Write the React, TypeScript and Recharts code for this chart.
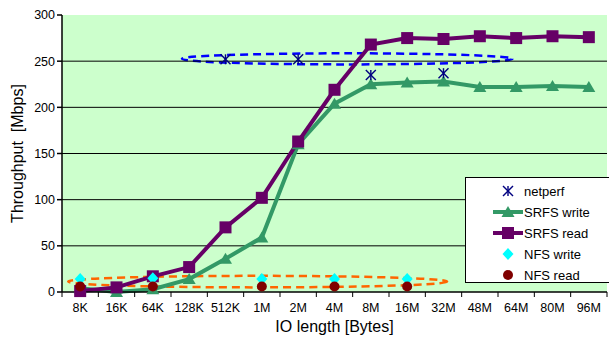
import { ComposedChart, Line, XAxis, YAxis, CartesianGrid, ReferenceLine, ReferenceArea } from 'recharts'

// IO length categories
const categories = ['8K', '16K', '64K', '128K', '512K', '1M', '2M', '4M', '8M', '16M', '32M', '48M', '64M', '80M', '96M']
// Throughput in Mbps
const srfsWrite = [4, 0, 3, 14, 36, 59, 160, 204, 225, 227, 228, 222, 222, 223, 222]
const srfsRead = [1, 5, 17, 27, 70, 102, 163, 219, 268, 275, 274, 277, 275, 277, 276]
const netperf = [null, null, null, null, 252, null, 252, null, 235, null, 237, null, null, null, null]
const nfsWrite = [14, null, 15, null, null, 14, null, 14, null, 14, null, null, null, null, null]
const nfsRead = [6, null, 6, null, null, 6, null, 6, null, 6, null, null, null, null, null]
const yTicks = [0, 50, 100, 150, 200, 250, 300]
const gridValues = [50, 100, 150, 200, 250]

const data = categories.map((c, i) => ({
  idx: i,
  name: c,
  srfsWrite: srfsWrite[i],
  srfsRead: srfsRead[i],
  netperf: netperf[i],
  nfsWrite: nfsWrite[i],
  nfsRead: nfsRead[i],
}))

const FONT = '"Liberation Sans", Arial, sans-serif'
const PURPLE = '#660066'
const GREEN = '#339966'
const NAVY = '#000080'
const CYAN = '#00ffff'
const DARKRED = '#800000'

const W = 609
const H = 338
const LEFT = 62
const RIGHT = 2
const STEP = (W - LEFT - RIGHT) / categories.length

function Square({ cx, cy }: any) {
  return <rect x={cx - 6} y={cy - 6} width={12} height={12} fill={PURPLE} />
}
function Triangle({ cx, cy }: any) {
  return <polygon points={`${cx},${cy - 6} ${cx + 6.5},${cy + 5} ${cx - 6.5},${cy + 5}`} fill={GREEN} />
}
function Star({ cx, cy }: any) {
  return (
    <g stroke={NAVY} strokeWidth={1.4}>
      <line x1={cx - 5} y1={cy - 5} x2={cx + 5} y2={cy + 5} />
      <line x1={cx - 5} y1={cy + 5} x2={cx + 5} y2={cy - 5} />
      <line x1={cx} y1={cy - 5} x2={cx} y2={cy + 5} />
    </g>
  )
}
function Diamond({ cx, cy }: any) {
  return <polygon points={`${cx},${cy - 6} ${cx + 5.5},${cy} ${cx},${cy + 6} ${cx - 5.5},${cy}`} fill={CYAN} />
}
function Dot({ cx, cy }: any) {
  return <circle cx={cx} cy={cy} r={5} fill={DARKRED} />
}

const dotOf = (Shape: any) => (props: any) => {
  const { cx, cy, index, value } = props
  if (value == null || cx == null || cy == null) return <g key={index} />
  return <Shape key={index} cx={cx} cy={cy} />
}

function XTick({ x, y, payload }: any) {
  const i = payload.value
  return (
    <g>
      <line x1={x - STEP / 2} y1={y - 8} x2={x - STEP / 2} y2={y - 3} stroke="#000" />
      {i === categories.length - 1 && <line x1={x + STEP / 2} y1={y - 8} x2={x + STEP / 2} y2={y - 3} stroke="#000" />}
      <text x={x} y={y + 12} textAnchor="middle" fontSize={12.5} fontFamily={FONT} fill="#000">
        {categories[i]}
      </text>
    </g>
  )
}

const ellipse = (color: string) => (props: any) => {
  const { x, y, width, height } = props
  return (
    <ellipse
      cx={x + width / 2}
      cy={y + height / 2}
      rx={width / 2}
      ry={height / 2}
      fill="none"
      stroke={color}
      strokeWidth={2.5}
      strokeDasharray="8 5"
    />
  )
}

const legendItems = [
  { label: 'netperf', Shape: Star, line: null },
  { label: 'SRFS write', Shape: Triangle, line: GREEN },
  { label: 'SRFS read', Shape: Square, line: PURPLE },
  { label: 'NFS write', Shape: Diamond, line: null },
  { label: 'NFS read', Shape: Dot, line: null },
]

export default function App() {
  return (
    <div style={{ position: 'absolute', left: 0, top: 0, width: W, height: H, background: '#fff' }}>
      <ComposedChart width={W} height={H} data={data} margin={{ top: 15, right: RIGHT, left: 0, bottom: 0 }}>
        <CartesianGrid fill="#ccffcc" horizontal={false} vertical={false} />
        {gridValues.map((v) => (
          <ReferenceLine key={v} y={v} stroke="#000" strokeWidth={1} />
        ))}
        <XAxis
          type="number"
          dataKey="idx"
          domain={[-0.5, categories.length - 0.5]}
          ticks={categories.map((_, i) => i)}
          interval={0}
          height={46}
          stroke="#000"
          strokeWidth={1.5}
          tickLine={false}
          tick={<XTick />}
          label={{
            content: ({ viewBox }: any) => (
              <text
                x={viewBox.x + viewBox.width / 2}
                y={viewBox.y + 34}
                textAnchor="middle"
                dominantBaseline="central"
                fontSize={16}
                fontFamily={FONT}
                fill="#000"
              >
                IO length [Bytes]
              </text>
            ),
          }}
        />
        <YAxis
          width={LEFT}
          domain={[0, 300]}
          ticks={yTicks}
          stroke="#000"
          strokeWidth={1.5}
          tickSize={5}
          tick={{ fontSize: 12.5, fontFamily: FONT, fill: '#000' }}
          label={{
            content: ({ viewBox }: any) => {
              const cx = 17
              const cy = viewBox.y + viewBox.height / 2
              return (
                <text
                  x={cx}
                  y={cy}
                  transform={`rotate(-90 ${cx} ${cy})`}
                  textAnchor="middle"
                  dominantBaseline="central"
                  fontSize={16}
                  fontFamily={FONT}
                  fill="#000"
                  style={{ whiteSpace: 'pre' }}
                >
                  {'Throughput  [Mbps]'}
                </text>
              )
            },
          }}
        />
        <ReferenceArea x1={2.8} x2={11.9} y1={246.5} y2={258.5} shape={ellipse('#0000ff')} />
        <ReferenceArea x1={-0.33} x2={10.1} y1={5} y2={17.5} shape={ellipse('#ff6600')} />
        <Line dataKey="srfsWrite" stroke={GREEN} strokeWidth={4} dot={dotOf(Triangle)} activeDot={false} isAnimationActive={false} />
        <Line dataKey="srfsRead" stroke={PURPLE} strokeWidth={4} dot={dotOf(Square)} activeDot={false} isAnimationActive={false} />
        <Line dataKey="netperf" stroke="none" dot={dotOf(Star)} activeDot={false} isAnimationActive={false} />
        <Line dataKey="nfsWrite" stroke="none" dot={dotOf(Diamond)} activeDot={false} isAnimationActive={false} />
        <Line dataKey="nfsRead" stroke="none" dot={dotOf(Dot)} activeDot={false} isAnimationActive={false} />
      </ComposedChart>
      <div
        style={{
          position: 'absolute',
          left: 465,
          top: 177,
          width: 150,
          height: 106,
          border: '1px solid #000',
          background: '#fff',
          fontFamily: FONT,
          fontSize: 13,
          boxSizing: 'border-box',
        }}
      >
        {legendItems.map(({ label, Shape, line }, i) => (
          <div key={label} style={{ position: 'absolute', left: 0, top: 3 + i * 21, height: 20, display: 'flex', alignItems: 'center' }}>
            <svg width={58} height={20}>
              {line && <line x1={27} y1={10} x2={57} y2={10} stroke={line} strokeWidth={4} />}
              <Shape cx={42} cy={10} />
            </svg>
            <span style={{ color: '#000' }}>{label}</span>
          </div>
        ))}
      </div>
    </div>
  )
}
